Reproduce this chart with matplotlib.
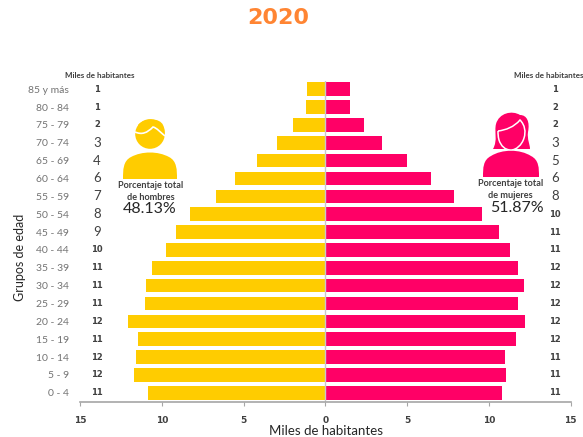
import matplotlib
matplotlib.use('Agg')
import matplotlib.pyplot as plt
from matplotlib.patches import Circle, PathPatch
from matplotlib.path import Path

plt.rcParams['font.family'] = ['Lato', 'DejaVu Sans']

W, H = 583, 437
YELLOW = '#FFCC00'
PINK = '#FF0066'

grupos = ['0 - 4', '5 - 9', '10 - 14', '15 - 19', '20 - 24', '25 - 29', '30 - 34', '35 - 39', '40 - 44',
          '45 - 49', '50 - 54', '55 - 59', '60 - 64', '65 - 69', '70 - 74', '75 - 79', '80 - 84', '85 y más']
hombres = [10.86, 11.7, 11.6, 11.43, 12.04, 11.02, 10.98, 10.6, 9.77,
           9.12, 8.27, 6.7, 5.54, 4.17, 2.97, 1.95, 1.19, 1.11]
mujeres = [10.78, 11.04, 10.98, 11.67, 12.2, 11.79, 12.16, 11.79, 11.28,
           10.59, 9.55, 7.88, 6.45, 5.02, 3.48, 2.35, 1.52, 1.48]
etiq_hombres = [11, 12, 12, 11, 12, 11, 11, 11, 10, 9, 8, 7, 6, 4, 3, 2, 1, 1]
etiq_mujeres = [11, 11, 11, 12, 12, 12, 12, 12, 11, 11, 10, 8, 6, 5, 3, 2, 2, 1]
ticks = [-15, -10, -5, 0, 5, 10, 15]
tick_labels = ['15', '10', '5', '0', '5', '10', '15']

fig = plt.figure(figsize=(W / 100, H / 100), dpi=100)
ax = fig.add_axes([80 / W, 1 - 402 / H, 490.7 / W, 320.8 / H])
y = list(range(len(grupos)))

#the two sides of the pyramid
ax.barh(y, [-v for v in hombres], height=0.76, color=YELLOW)
ax.barh(y, mujeres, height=0.76, color=PINK)
ax.axvline(0, color='#c8c8c8', lw=1)

ax.set_xlim(-15, 15)
ax.set_ylim(-0.52, 17.45)
for s in ['top', 'left', 'right']:
    ax.spines[s].set_visible(False)
ax.spines['bottom'].set_color('#a6a6a6')
ax.spines['bottom'].set_linewidth(1.2)
ax.set_xticks(ticks)
ax.set_xticklabels(tick_labels, family='DejaVu Sans', fontweight='bold', fontsize=6.5, color='#404040')
ax.tick_params(axis='x', length=3, color='#a6a6a6', pad=7)
ax.set_yticks(y)
ax.set_yticklabels(grupos, fontsize=7.5, color='#737373')
ax.tick_params(axis='y', length=0, pad=8)


#value columns at both sides
def columna(xpos, valores):
    for yi, v in zip(y, valores):
        if 3 <= v <= 9:
            ax.text(xpos, yi, str(v), ha='center', va='center', fontsize=9.5, color='#404040')
        else:
            ax.text(xpos, yi, str(v), ha='center', va='center', fontsize=6,
                    family='DejaVu Sans', fontweight='bold', color='#404040')


columna(-13.97, etiq_hombres)
columna(14.05, etiq_mujeres)

#overlay in pixels for the texts and icons
ov = fig.add_axes([0, 0, 1, 1])
ov.set_xlim(0, W)
ov.set_ylim(H, 0)
ov.axis('off')
ov.patch.set_alpha(0)


def forma(verts, codes, **kw):
    ov.add_patch(PathPatch(Path(verts, codes), lw=kw.pop('lw', 0), **kw))


M, L, C, Z = Path.MOVETO, Path.LINETO, Path.CURVE4, Path.CLOSEPOLY

#man
ov.add_patch(Circle((150, 134), 14.8, color=YELLOW, lw=0))
forma([(138, 125), (145, 117), (160, 118), (163, 125), (165, 129), (165, 132), (164, 136), (150, 136), (138, 136), (138, 125)],
      [M, C, C, C, C, C, C, L, L, Z], fc=YELLOW)
forma([(135, 132), (142, 135), (147, 133), (153, 127), (157, 128), (160, 132), (165, 136)],
      [M, C, C, C, C, C, C], fc='none', ec='white', lw=1.2)
forma([(123, 179), (123, 170), (123, 161), (131, 157), (142, 151), (158, 151), (169, 157), (177, 161), (177, 170),
       (177, 179), (123, 179)],
      [M, C, C, C, C, C, C, C, C, L, Z], fc=YELLOW)

#woman
forma([(493, 149), (498, 140), (494, 132), (496, 124), (499, 113), (512, 110), (520, 115), (527, 115), (530, 122),
       (528, 132), (527, 140), (530, 144), (530, 149), (493, 149)],
      [M, C, C, C, C, C, C, C, C, C, C, C, C, Z], fc=PINK)
forma([(498, 131), (506, 130), (514, 127), (520, 120), (525, 125), (526, 132), (524, 138),
       (522, 145), (516, 150), (511, 150), (505, 150), (501, 146), (499, 140), (498, 136), (498, 134), (498, 131)],
      [M, C, C, C, C, C, C, C, C, C, C, C, C, C, C, C], fc=PINK, ec='white', lw=1.1)
forma([(483, 177), (483, 168), (483, 160), (491, 156), (502, 149), (520, 149), (531, 156), (539, 160), (539, 168),
       (539, 177), (483, 177)],
      [M, C, C, C, C, C, C, C, C, L, Z], fc=PINK)


def txt(x, yp, s, size, color='#404040', weight='normal', **kw):
    ov.text(x, yp, s, ha='center', va='center', fontsize=size, color=color, fontweight=weight, **kw)


txt(278.5, 18, '2020', 16, color='#FF8533', weight='bold', family='DejaVu Sans')
txt(100, 76, 'Miles de habitantes', 5.8, weight='bold')
txt(549, 76, 'Miles de habitantes', 5.8, weight='bold')
txt(151, 185, 'Porcentaje total', 6.6, weight='bold')
txt(151, 197, 'de hombres', 6.6, weight='bold')
txt(150, 209, '48.13%', 11.5, color='#262626')
txt(510.5, 183, 'Porcentaje total', 6.6, weight='bold')
txt(510.5, 195, 'de mujeres', 6.6, weight='bold')
txt(517, 208, '51.87%', 11.5, color='#262626')
txt(326, 431, 'Miles de habitantes', 9.5, color='#262626')
txt(20, 257, 'Grupos de edad', 9, color='#262626', rotation=90)

fig.savefig('out.png', dpi=100)
